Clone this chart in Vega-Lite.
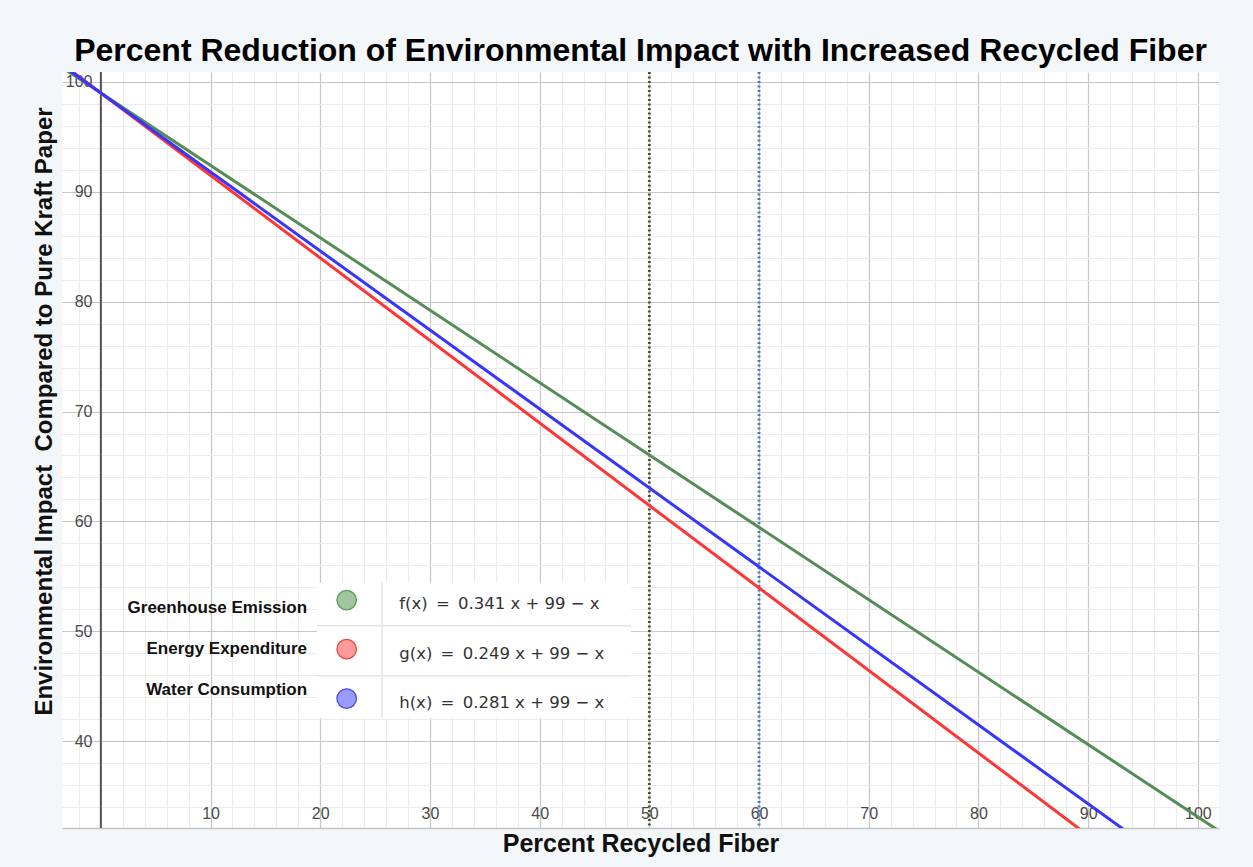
{
  "$schema": "https://vega.github.io/schema/vega-lite/v6.json",
  "width": 1157,
  "height": 756,
  "autosize": {"type": "none"},
  "padding": {"left": 62, "top": 72, "right": 34, "bottom": 39},
  "background": "#f4f7fa",
  "view": {"fill": "white", "stroke": null},
  "config": {
    "font": "Liberation Sans",
    "axis": {
      "labelOverlap": false,
      "labelFlush": false,
      "labelFont": "Liberation Sans",
      "labelFontSize": 16,
      "labelColor": "#4a4a4a",
      "ticks": false,
      "tickSize": 0,
      "titleFont": "Liberation Sans",
      "titleFontSize": 25,
      "titleFontWeight": "bold",
      "titleColor": "#111111"
    },
    "axisX": {"labelBaseline": "alphabetic", "labelPadding": -10},
    "axisY": {"labelAlign": "right", "labelBaseline": "middle", "labelPadding": -30}
  },
  "title": {
    "text": "Percent Reduction of Environmental Impact with Increased Recycled Fiber",
    "font": "Liberation Sans",
    "fontSize": 32,
    "fontWeight": "bold",
    "color": "#000000",
    "anchor": "middle",
    "baseline": "alphabetic",
    "offset": -22
  },
  "datasets": {
    "lines": [
      {"series": "f", "x": -4, "y": 101.636},
      {"series": "f", "x": 103, "y": 31.123},
      {"series": "g", "x": -4, "y": 102.004},
      {"series": "g", "x": 103, "y": 21.647},
      {"series": "h", "x": -4, "y": 101.876},
      {"series": "h", "x": 103, "y": 24.943}
    ]
  },
  "layer": [
    {
      "data": {"values": [{"x": 19.71, "x2": 48.33, "y": 42.11, "y2": 54.42}]},
      "mark": {"type": "rect", "fill": "white"},
      "encoding": {
        "x": {
          "field": "x", "type": "quantitative",
          "scale": {"domain": [-3.54, 101.93], "nice": false, "zero": false},
          "axis": {
            "title": "Percent Recycled Fiber",
            "titleBaseline": "alphabetic",
            "titleY": 23,
            "values": [-2,0,2,4,6,8,10,12,14,16,18,20,22,24,26,28,30,32,34,36,38,40,42,44,46,48,50,52,54,56,58,60,62,64,66,68,70,72,74,76,78,80,82,84,86,88,90,92,94,96,98,100],
            "tickCount": 200,
            "format": "d",
            "labelExpr": "datum.value % 10 === 0 && datum.value > 0 ? datum.label : ''",
            "labelOverlap": false,
            "domain": true,
            "domainColor": "#c4c4c4",
            "domainWidth": 1.5,
            "grid": true,
            "gridColor": {"condition": {"test": "datum.value % 10 === 0", "value": "#c6c6c6"}, "value": "#ececec"},
            "gridWidth": 1.2
          }
        },
        "x2": {"field": "x2"},
        "y": {
          "field": "y", "type": "quantitative",
          "scale": {"domain": [32.09, 100.91], "nice": false, "zero": false},
          "axis": {
            "title": "Environmental Impact\u00a0 Compared to Pure Kraft Paper",
            "titleFontSize": 24,
            "titleAngle": -90,
            "titleAlign": "center",
            "titleBaseline": "middle",
            "titleX": -18,
            "titleY": 339,
            "values": [34,36,38,40,42,44,46,48,50,52,54,56,58,60,62,64,66,68,70,72,74,76,78,80,82,84,86,88,90,92,94,96,98,100],
            "tickCount": 200,
            "format": "d",
            "labelExpr": "datum.value % 10 === 0 ? datum.label : ''",
            "labelOverlap": false,
            "domain": false,
            "grid": true,
            "gridColor": {"condition": {"test": "datum.value % 10 === 0", "value": "#c6c6c6"}, "value": "#ececec"},
            "gridWidth": 1.2
          }
        },
        "y2": {"field": "y2"}
      }
    },
    {
      "data": {"values": [
        {"x": 25.63, "x2": 25.63, "y": 42.11, "y2": 54.42},
        {"x": 19.71, "x2": 48.33, "y": 50.5, "y2": 50.5},
        {"x": 19.71, "x2": 48.33, "y": 45.94, "y2": 45.94}
      ]},
      "mark": {"type": "rule", "color": "#e6e6e6", "strokeWidth": 1.5},
      "encoding": {
        "x": {"field": "x", "type": "quantitative"},
        "x2": {"field": "x2"},
        "y": {"field": "y", "type": "quantitative"},
        "y2": {"field": "y2"}
      }
    },
    {
      "data": {"values": [{"x": 0}]},
      "mark": {"type": "rule", "color": "#555555", "strokeWidth": 2},
      "encoding": {
        "x": {"field": "x", "type": "quantitative"}
      }
    },
    {
      "data": {"values": [{"x": 50, "series": "v50"}, {"x": 60, "series": "v60"}]},
      "mark": {"type": "rule", "strokeWidth": 2.8, "strokeDash": [2, 2.5]},
      "encoding": {
        "x": {"field": "x", "type": "quantitative"},
        "color": {"field": "series", "type": "nominal", "legend": null}
      }
    },
    {
      "data": {"name": "lines"},
      "mark": {"type": "line", "strokeWidth": 3, "clip": true},
      "encoding": {
        "x": {"field": "x", "type": "quantitative"},
        "y": {"field": "y", "type": "quantitative"},
        "color": {
          "field": "series", "type": "nominal",
          "scale": {"domain": ["f", "g", "h", "v50", "v60"], "range": ["#568c56", "#ff3535", "#3535ff", "#4f4f30", "#3d7cc2"]},
          "legend": null
        }
      }
    },
    {
      "data": {"values": [
        {"x": 22.41, "y": 52.84, "series": "f"},
        {"x": 22.41, "y": 48.37, "series": "g"},
        {"x": 22.41, "y": 43.87, "series": "h"}
      ]},
      "mark": {"type": "circle", "size": 380, "opacity": 1, "strokeWidth": 1.3},
      "encoding": {
        "x": {"field": "x", "type": "quantitative"},
        "y": {"field": "y", "type": "quantitative"},
        "fill": {"field": "series", "type": "nominal", "scale": {"domain": ["f", "g", "h"], "range": ["#9fc69f", "#ff9a9a", "#9a9aff"]}, "legend": null},
        "stroke": {"field": "series", "type": "nominal", "scale": {"domain": ["f", "g", "h"], "range": ["#5f995f", "#e04a4a", "#4a4ae6"]}, "legend": null}
      }
    },
    {
      "data": {"values": [
        {"x": 18.8, "y": 52.14, "label": "Greenhouse Emission"},
        {"x": 18.8, "y": 48.4, "label": "Energy Expenditure"},
        {"x": 18.8, "y": 44.67, "label": "Water Consumption"}
      ]},
      "mark": {"type": "text", "align": "right", "baseline": "middle", "font": "Liberation Sans", "fontSize": 17, "fontWeight": "bold", "color": "#111111"},
      "encoding": {
        "x": {"field": "x", "type": "quantitative"},
        "y": {"field": "y", "type": "quantitative"},
        "text": {"field": "label"}
      }
    },
    {
      "data": {"values": [
        {"x": 27.2, "y": 52.46, "label": "f(x)\u2002=\u20020.341 x + 99 − x"},
        {"x": 27.2, "y": 47.96, "label": "g(x)\u2002=\u20020.249 x + 99 − x"},
        {"x": 27.2, "y": 43.49, "label": "h(x)\u2002=\u20020.281 x + 99 − x"}
      ]},
      "mark": {"type": "text", "align": "left", "baseline": "middle", "font": "DejaVu Sans", "fontSize": 16.5, "color": "#333333"},
      "encoding": {
        "x": {"field": "x", "type": "quantitative"},
        "y": {"field": "y", "type": "quantitative"},
        "text": {"field": "label"}
      }
    }
  ]
}
